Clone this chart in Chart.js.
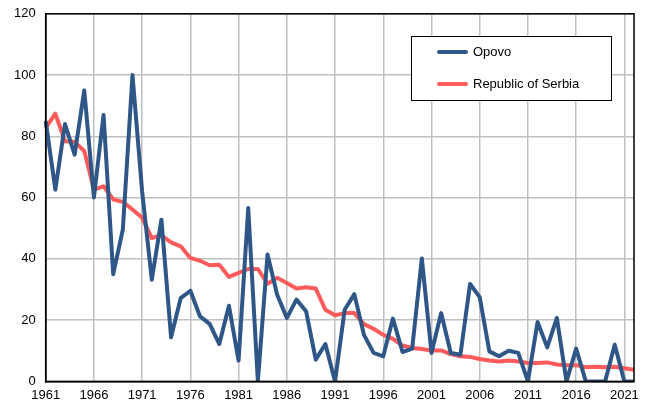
<!DOCTYPE html>
<html>
<head>
<meta charset="utf-8">
<script src="https://cdn.jsdelivr.net/npm/chart.js@4/dist/chart.umd.min.js"></script>
<style>
  html, body { margin: 0; padding: 0; background: #fff; }
  #wrap { width: 645px; height: 410px; overflow: hidden; }
  #chart { display: block; margin-top: -4px; }
</style>
</head>
<body>
<div id="wrap"><canvas id="chart" width="645" height="414"></canvas></div>
<script>
// ─── DATA ─────────────────────────────────────────────────────
const years = [];
for (let y = 1961; y <= 2022; y++) years.push(String(y));

const opovo = [
    85, 62.6, 84, 74, 95, 60, 87, 35, 49.6, 100,
    62, 33.2, 52.8, 14.4, 27.2, 29.6, 21.2, 18.8, 12.2, 24.7,
    6.8, 56.6, 0, 41.4, 28.3, 20.7, 26.7, 22.9, 7.1, 12.2,
    0, 23.4, 28.5, 15.2, 9.3, 8.2, 20.5, 9.6, 10.7, 40.1,
    9.3, 22.3, 9.3, 8.7, 31.8, 27.5, 9.8, 8.2, 10, 9.3,
    0, 19.4, 11.1, 20.7, 0, 10.7, 0, 0, 0, 12,
    0, 0
];

const serbia = [
    82.8, 87.4, 78.4, 78.2, 75.2, 62.6, 63.7, 59.4, 58.6, 56.1,
    53.4, 46.8, 47.7, 45.4, 44.1, 40.3, 39.4, 37.9, 38.1, 34.1,
    35.4, 36.7, 36.7, 31.9, 33.8, 32.1, 30.3, 30.7, 30.3, 23.4,
    21.6, 22.3, 22.3, 18.7, 17.2, 15.2, 13.9, 11.7, 10.9, 10.6,
    10.1, 10.1, 8.9, 8.2, 8.0, 7.3, 6.8, 6.5, 6.8, 6.5,
    6.0, 6.0, 6.2, 5.5, 5.3, 5.3, 4.6, 4.8, 4.6, 4.8,
    4.3, 3.8
];

const FONT = "'Liberation Sans', Arial, sans-serif";

// ─── PLOT FRAME + LEGEND BOX ──────────────────────────────────
const framePlugin = {
    id: "frame",
    afterDatasetsDraw(chart) {
        const { ctx, chartArea: a } = chart;
        ctx.save();
        ctx.strokeStyle = "#000";
        ctx.lineWidth = 1.5;
        ctx.strokeRect(a.left, a.top, a.right - a.left, a.bottom - a.top);

        // legend box inside the plot (canvas is shifted up 4px)
        const bx = 411, by = 40, bw = 200, bh = 64;
        ctx.fillStyle = "#fff";
        ctx.fillRect(bx, by, bw, bh);
        ctx.lineWidth = 1;
        ctx.strokeRect(bx + 0.5, by + 0.5, bw, bh);
        ctx.font = "13px " + FONT;
        ctx.textBaseline = "middle";
        chart.data.datasets.forEach((ds, i) => {
            const y = by + 16 + i * 32;
            ctx.strokeStyle = ds.borderColor;
            ctx.lineWidth = 4;
            ctx.lineCap = "round";
            ctx.beginPath();
            ctx.moveTo(439, y);
            ctx.lineTo(466, y);
            ctx.stroke();
            ctx.fillStyle = "#000";
            ctx.fillText(ds.label, 473, y);
        });
        ctx.restore();
    }
};

// ─── CHART ────────────────────────────────────────────────────
const ctx = document.getElementById("chart").getContext("2d");
new Chart(ctx, {
    type: "line",
    data: {
        labels: years,
        datasets: [
            {
                label: "Opovo",
                data: opovo,
                borderColor: "#2E5787",
                borderWidth: 4,
                borderJoinStyle: "round",
                pointRadius: 0,
                tension: 0
            },
            {
                label: "Republic of Serbia",
                data: serbia,
                borderColor: "#FF5B5B",
                borderWidth: 4,
                borderJoinStyle: "round",
                pointRadius: 0,
                tension: 0
            }
        ]
    },
    options: {
        responsive: false,
        animation: false,
        layout: { padding: { top: 2, right: 10, left: 4, bottom: 1 } },
        plugins: {
            legend: { display: false },
            tooltip: { enabled: false }
        },
        scales: {
            x: {
                offset: false,
                grid: { color: "#c0c0c0", lineWidth: 1.5, drawTicks: false },
                border: { color: "#000", width: 1.5 },
                ticks: {
                    autoSkip: false,
                    maxRotation: 0,
                    padding: 6,
                    color: "#000",
                    font: { family: FONT, size: 13 },
                    callback: function (v, i) {
                        return (i % 5 === 0) ? this.getLabelForValue(v) : null;
                    }
                }
            },
            y: {
                min: 0,
                max: 120,
                grid: { color: "#c0c0c0", lineWidth: 1.5, drawTicks: false },
                border: { color: "#000", width: 1.5 },
                ticks: {
                    stepSize: 20,
                    padding: 10,
                    color: "#000",
                    font: { family: FONT, size: 13 }
                }
            }
        }
    },
    plugins: [framePlugin]
});
</script>
</body>
</html>
